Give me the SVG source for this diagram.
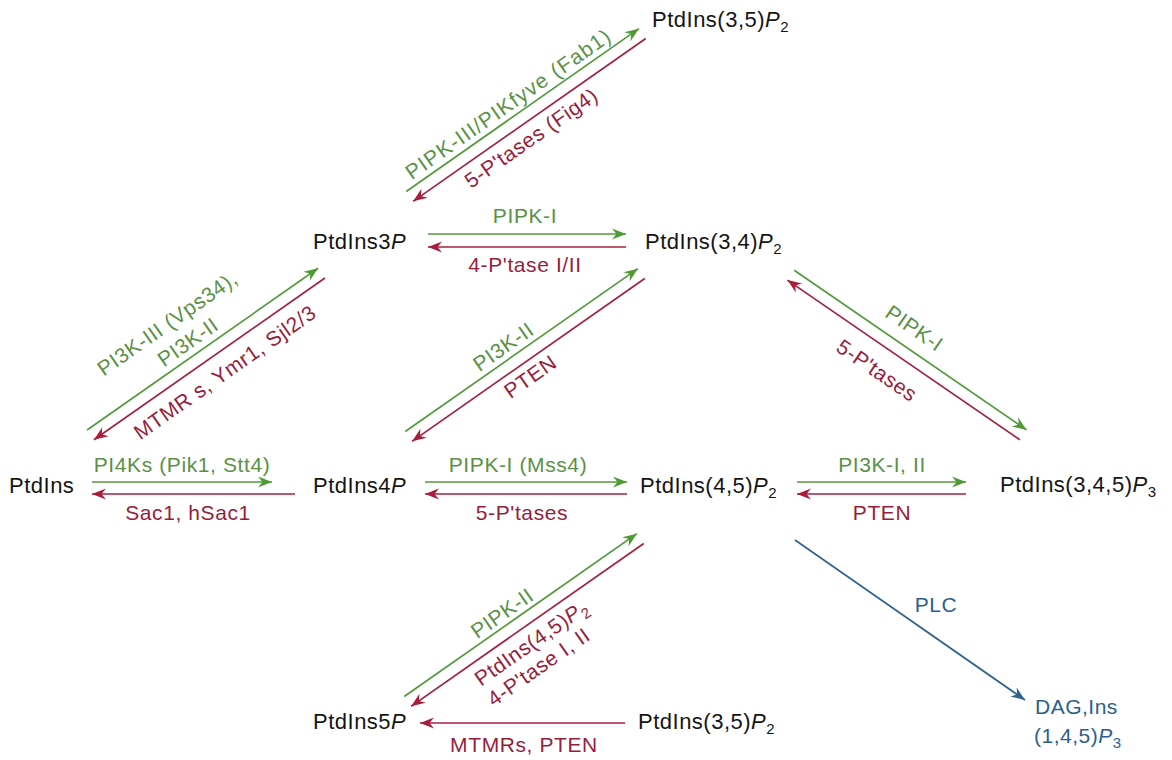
<svg xmlns="http://www.w3.org/2000/svg" width="1172" height="760" viewBox="0 0 1172 760">
<defs>
<style>
.node{font-family:"Liberation Sans",Arial,sans-serif;font-size:22px;letter-spacing:0.5px;fill:#151515}
.lbl{font-family:"Liberation Sans",Arial,sans-serif;font-size:21px;letter-spacing:0.6px;text-anchor:middle}
.g{fill:#5a9145}
.r{fill:#981d3b}
.b{fill:#2b5f8e}
.lg{stroke:#529a3c;stroke-width:1.7;fill:none;marker-end:url(#ag)}
.lr{stroke:#a3203f;stroke-width:1.7;fill:none;marker-end:url(#ar)}
.lb{stroke:#2d6290;stroke-width:1.7;fill:none;marker-end:url(#ab)}
.it{font-style:italic}
</style>
<marker id="ag" viewBox="-15 -6 16 12" refX="0" refY="0" markerWidth="16" markerHeight="12" orient="auto" markerUnits="userSpaceOnUse"><path d="M0,0 L-14,-5.5 L-9.5,0 L-14,5.5 Z" fill="#4f9a36"/></marker>
<marker id="ar" viewBox="-15 -6 16 12" refX="0" refY="0" markerWidth="16" markerHeight="12" orient="auto" markerUnits="userSpaceOnUse"><path d="M0,0 L-14,-5.5 L-9.5,0 L-14,5.5 Z" fill="#a81d3c"/></marker>
<marker id="ab" viewBox="-15 -6 16 12" refX="0" refY="0" markerWidth="16" markerHeight="12" orient="auto" markerUnits="userSpaceOnUse"><path d="M0,0 L-14,-5.5 L-9.5,0 L-14,5.5 Z" fill="#2d6290"/></marker>
</defs>
<rect width="1172" height="760" fill="#ffffff"/>

<g id="connectors">
  <!-- top diagonal: PtdIns3P <-> PtdIns(3,5)P2 -->
  <g transform="translate(526,115) rotate(-35)">
    <line class="lg" x1="-142" y1="-6" x2="142" y2="-6"/>
    <line class="lr" x1="142" y1="6" x2="-142" y2="6"/>
    <text class="lbl g" x="-8" y="-12" style="letter-spacing:1.2px">PIPK-III/PIKfyve (Fab1)</text>
    <text class="lbl r" x="-9" y="29">5-P'tases (Fig4)</text>
  </g>
  <!-- left diagonal: PtdIns <-> PtdIns3P -->
  <g transform="translate(206,354) rotate(-35)">
    <line class="lg" x1="-141" y1="-6" x2="141" y2="-6"/>
    <line class="lr" x1="141" y1="6" x2="-141" y2="6"/>
    <text class="lbl g" x="-14" y="-40">PI3K-III (Vps34),</text>
    <text class="lbl g" x="-8" y="-13">PI3K-II</text>
    <text class="lbl r" x="5" y="33">MTMR s, Ymr1, Sjl2/3</text>
  </g>
  <!-- middle diagonal: PtdIns4P <-> PtdIns(3,4)P2 -->
  <g transform="translate(525,355) rotate(-35)">
    <line class="lg" x1="-142" y1="-6" x2="142" y2="-6"/>
    <line class="lr" x1="142" y1="6" x2="-142" y2="6"/>
    <text class="lbl g" x="-13" y="-12">PI3K-II</text>
    <text class="lbl r" x="-8" y="28">PTEN</text>
  </g>
  <!-- bottom diagonal: PtdIns5P <-> PtdIns(4,5)P2 -->
  <g transform="translate(524,620) rotate(-35)">
    <line class="lg" x1="-142" y1="-6" x2="142" y2="-6"/>
    <line class="lr" x1="142" y1="6" x2="-142" y2="6"/>
    <text class="lbl g" x="-14" y="-11">PIPK-II</text>
    <text class="lbl r" x="-7" y="30">PtdIns(4,5)<tspan class="it">P</tspan><tspan font-size="15" dy="5">2</tspan></text>
    <text class="lbl r" x="-15" y="54">4-P'tase I, II</text>
  </g>
  <!-- right diagonal: PtdIns(3,4)P2 <-> PtdIns(3,4,5)P3 -->
  <g transform="translate(907,355) rotate(34.5)">
    <line class="lg" x1="-141" y1="-6" x2="141" y2="-6"/>
    <line class="lr" x1="141" y1="6" x2="-141" y2="6"/>
    <text class="lbl g" x="-9" y="-19">PIPK-I</text>
    <text class="lbl r" x="-16" y="37">5-P'tases</text>
  </g>

  <!-- row 2: PtdIns3P <-> PtdIns(3,4)P2 -->
  <line class="lg" x1="428" y1="234" x2="626" y2="234"/>
  <line class="lr" x1="626" y1="247" x2="428" y2="247"/>
  <text class="lbl g" x="525" y="223">PIPK-I</text>
  <text class="lbl r" x="525" y="272">4-P'tase I/II</text>

  <!-- row 3 -->
  <line class="lg" x1="92" y1="482" x2="272" y2="482"/>
  <line class="lr" x1="295" y1="494" x2="92" y2="494"/>
  <text class="lbl g" x="182" y="472">PI4Ks (Pik1, Stt4)</text>
  <text class="lbl r" x="188" y="520">Sac1, hSac1</text>

  <line class="lg" x1="425" y1="482" x2="627" y2="482"/>
  <line class="lr" x1="627" y1="494" x2="425" y2="494"/>
  <text class="lbl g" x="518" y="472">PIPK-I (Mss4)</text>
  <text class="lbl r" x="522" y="520">5-P'tases</text>

  <line class="lg" x1="797" y1="482" x2="966" y2="482"/>
  <line class="lr" x1="966" y1="494" x2="797" y2="494"/>
  <text class="lbl g" x="882" y="472">PI3K-I, II</text>
  <text class="lbl r" x="882" y="520">PTEN</text>

  <!-- bottom row -->
  <line class="lr" x1="625" y1="723" x2="420" y2="723"/>
  <text class="lbl r" x="524" y="752">MTMRs, PTEN</text>

  <!-- PLC -->
  <line class="lb" x1="795" y1="540" x2="1025" y2="700"/>
  <text class="lbl b" x="936" y="612">PLC</text>
</g>

<g id="n-ptdins35p2-top"><text class="node" x="652" y="27">PtdIns(3,5)<tspan class="it">P</tspan><tspan font-size="15" dy="5">2</tspan></text></g>
<g id="n-ptdins3p"><text class="node" x="313" y="249">PtdIns3<tspan class="it">P</tspan></text></g>
<g id="n-ptdins34p2"><text class="node" x="645" y="249">PtdIns(3,4)<tspan class="it">P</tspan><tspan font-size="15" dy="5">2</tspan></text></g>
<g id="n-ptdins"><text class="node" x="9" y="493">PtdIns</text></g>
<g id="n-ptdins4p"><text class="node" x="313" y="493">PtdIns4<tspan class="it">P</tspan></text></g>
<g id="n-ptdins45p2"><text class="node" x="640" y="493">PtdIns(4,5)<tspan class="it">P</tspan><tspan font-size="15" dy="5">2</tspan></text></g>
<g id="n-ptdins345p3"><text class="node" x="1000" y="492">PtdIns(3,4,5)<tspan class="it">P</tspan><tspan font-size="15" dy="5">3</tspan></text></g>
<g id="n-ptdins5p"><text class="node" x="313" y="729">PtdIns5<tspan class="it">P</tspan></text></g>
<g id="n-ptdins35p2-bot"><text class="node" x="638" y="729">PtdIns(3,5)<tspan class="it">P</tspan><tspan font-size="15" dy="5">2</tspan></text></g>
<g id="n-dag">
  <text class="lbl b" style="text-anchor:start;letter-spacing:0.5px" x="1035" y="714">DAG,Ins</text>
  <text class="lbl b" style="text-anchor:start;letter-spacing:0.5px" x="1034" y="743">(1,4,5)<tspan class="it">P</tspan><tspan font-size="15" dy="5">3</tspan></text>
</g>
</svg>
